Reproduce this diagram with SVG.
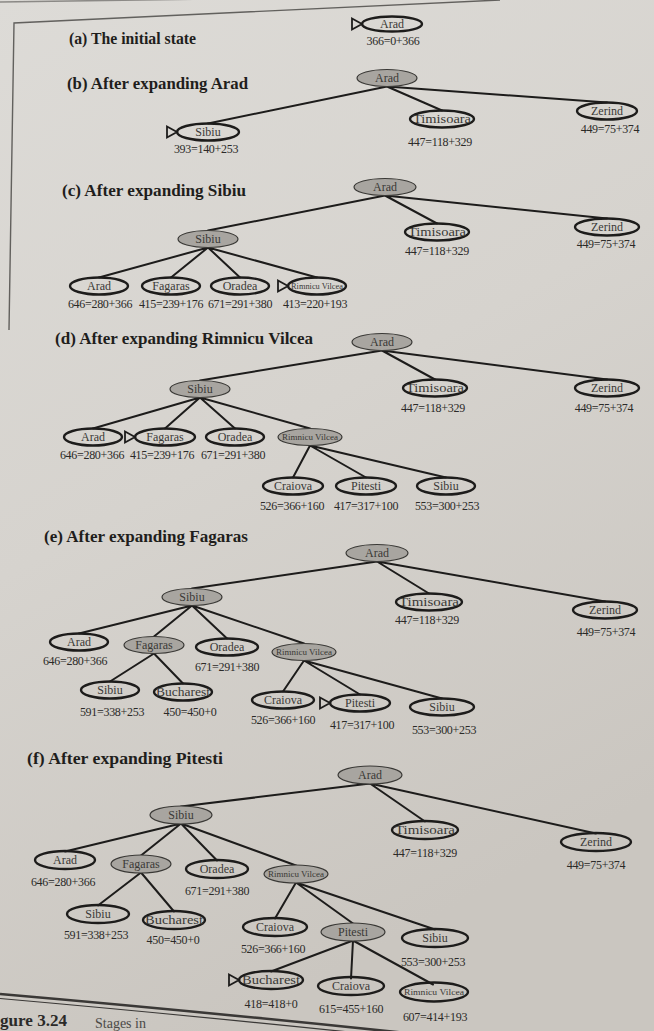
<svg xmlns="http://www.w3.org/2000/svg" xmlns:xlink="http://www.w3.org/1999/xlink" width="654" height="1031" viewBox="0 0 654 1031">
  <style>
    text { font-family: "Liberation Serif", "Times New Roman", serif; fill: #2b2a28; }
    .n { fill: none; stroke: #1d1c1b; stroke-width: 2.4; }
    .g { fill: #a8a5a0; stroke: #3a3936; stroke-width: 1.2; }
    .t { font-size: 12px; text-anchor: middle; fill: #3a3936; }
    .rv { font-size: 8.5px; text-anchor: middle; fill: #3a3936; }
    .v { font-size: 12px; letter-spacing: -0.3px; text-anchor: middle; }
    .title { font-size: 16px; font-weight: bold; fill: #1f1e1c; }
    .e path { fill: none; stroke: #1d1c1b; stroke-width: 2; stroke-linecap: round; }
    .s { fill: none; stroke: #1d1c1b; stroke-width: 1.8; stroke-linejoin: miter; }
    .rule { fill: none; stroke: #3a3836; }
  </style>
  <defs>
    <linearGradient id="paper" x1="0" y1="0" x2="0.35" y2="1">
      <stop offset="0" stop-color="#dddbd7"/>
      <stop offset="0.5" stop-color="#d6d3ce"/>
      <stop offset="1" stop-color="#cac6c0"/>
    </linearGradient>
    <!-- start-state marker: open triangle whose tip touches the node -->
    <path id="start" class="s" d="M0,0 L-10,-5.5 L-10,5.5 Z"/>
  </defs>

  <rect width="654" height="1031" fill="url(#paper)"/>

  <!-- figure frame and rules -->
  <path class="rule" d="M0,2 L420,-4" stroke-width="1.5" opacity="0.5"/>
  <path class="rule" d="M9,330 L14,23 L500,0" stroke-width="1.4" opacity="0.75"/>
  <path class="rule" d="M0,994 Q300,1020 654,1060" stroke-width="2.6"/>
  <path class="rule" d="M0,998.5 Q300,1025 654,1065" stroke-width="1.2"/>
  <text x="0" y="1026" style="font-size:16px;font-weight:bold" textLength="67" lengthAdjust="spacingAndGlyphs">gure 3.24</text>
  <text x="95" y="1028" style="font-size:14px" opacity="0.8">Stages in</text>

  <!-- panel titles -->
  <text class="title" x="69" y="44" textLength="127" lengthAdjust="spacingAndGlyphs">(a) The initial state</text>
  <text class="title" x="67" y="89" textLength="181" lengthAdjust="spacingAndGlyphs">(b) After expanding Arad</text>
  <text class="title" x="62" y="196" textLength="184" lengthAdjust="spacingAndGlyphs">(c) After expanding Sibiu</text>
  <text class="title" x="55" y="344" textLength="258" lengthAdjust="spacingAndGlyphs">(d) After expanding Rimnicu Vilcea</text>
  <text class="title" x="44" y="542" textLength="204" lengthAdjust="spacingAndGlyphs">(e) After expanding Fagaras</text>
  <text class="title" x="27" y="764" textLength="196" lengthAdjust="spacingAndGlyphs">(f) After expanding Pitesti</text>

  <!-- tree edges -->
  <g id="edges" class="e">
    <!-- (b) -->
    <path d="M387,86.5 L208,123.5 M387,86.5 L442,110.5 M387,86.5 L607,102.5"/>
    <!-- (c) -->
    <path d="M385,195.5 L208,230.5 M385,195.5 L437,223.5 M385,195.5 L607,218.5"/>
    <path d="M208,247.5 L99,277.5 M208,247.5 L171,277.5 M208,247.5 L240,277.5 M208,247.5 L317,277.5"/>
    <!-- (d) -->
    <path d="M382,350.5 L200,380.5 M382,350.5 L435,379.5 M382,350.5 L607,379.5"/>
    <path d="M200,397.5 L93,428.5 M200,397.5 L165,428.5 M200,397.5 L235,428.5 M200,397.5 L310,428.5"/>
    <path d="M310,445.5 L293,477.5 M310,445.5 L366,477.5 M310,445.5 L446,477.5"/>
    <!-- (e) -->
    <path d="M377,561.5 L192,588.5 M377,561.5 L429,593.5 M377,561.5 L605,601.5"/>
    <path d="M192,605.5 L79,633.5 M192,605.5 L154,636.5 M192,605.5 L227,638.5 M192,605.5 L304,643.5"/>
    <path d="M154,653.5 L110,681.5 M154,653.5 L183,683.5"/>
    <path d="M304,660.5 L283,691.5 M304,660.5 L360,694.5 M304,660.5 L442,698.5"/>
    <!-- (f) -->
    <path d="M370,783.5 L181,806.5 M370,783.5 L425,821.5 M370,783.5 L596,833.5"/>
    <path d="M181,823.5 L65,851.5 M181,823.5 L141,855.5 M181,823.5 L217,860.5 M181,823.5 L296,865.5"/>
    <path d="M141,872.5 L98,905.5 M141,872.5 L174,911.5"/>
    <path d="M296,882.5 L275,918.5 M296,882.5 L353,923.5 M296,882.5 L435,929.5"/>
    <path d="M353,940.5 L271,971.5 M353,940.5 L351,978.5 M353,940.5 L433,984.5"/>
  </g>

  <!-- (a) initial state -->
  <g id="a-arad"><use xlink:href="#start" x="362" y="24"/><ellipse class="n" cx="392" cy="24" rx="30" ry="7.5"/><text class="t" x="392" y="28">Arad</text><text class="v" x="393" y="45">366=0+366</text></g>

  <!-- (b) after expanding Arad -->
  <g id="b-arad"><ellipse class="g" cx="387" cy="78" rx="30" ry="8.5"/><text class="t" x="387" y="82">Arad</text></g>
  <g id="b-sibiu"><use xlink:href="#start" x="177" y="132"/><ellipse class="n" cx="208" cy="132" rx="31" ry="8.5"/><text class="t" x="208" y="136">Sibiu</text><text class="v" x="206" y="153">393=140+253</text></g>
  <g id="b-timisoara"><ellipse class="n" cx="442" cy="119" rx="32" ry="8.5"/><text class="t" x="442" y="123" textLength="58" lengthAdjust="spacingAndGlyphs">Timisoara</text><text class="v" x="440" y="146">447=118+329</text></g>
  <g id="b-zerind"><ellipse class="n" cx="607" cy="111" rx="30" ry="8.5"/><text class="t" x="607" y="115">Zerind</text><text class="v" x="610" y="133">449=75+374</text></g>

  <!-- (c) after expanding Sibiu -->
  <g id="c-arad"><ellipse class="g" cx="385" cy="187" rx="31" ry="8.5"/><text class="t" x="385" y="191">Arad</text></g>
  <g id="c-sibiu"><ellipse class="g" cx="208" cy="239" rx="30" ry="8.5"/><text class="t" x="208" y="243">Sibiu</text></g>
  <g id="c-timisoara"><ellipse class="n" cx="437" cy="232" rx="32" ry="8.5"/><text class="t" x="437" y="236" textLength="58" lengthAdjust="spacingAndGlyphs">Timisoara</text><text class="v" x="437" y="255">447=118+329</text></g>
  <g id="c-zerind"><ellipse class="n" cx="607" cy="227" rx="32" ry="8.5"/><text class="t" x="607" y="231">Zerind</text><text class="v" x="606" y="248">449=75+374</text></g>
  <g id="c-arad2"><ellipse class="n" cx="99" cy="286" rx="29" ry="8.5"/><text class="t" x="99" y="290">Arad</text><text class="v" x="100" y="308">646=280+366</text></g>
  <g id="c-fagaras"><ellipse class="n" cx="171" cy="286" rx="29" ry="8.5"/><text class="t" x="171" y="290">Fagaras</text><text class="v" x="171" y="308">415=239+176</text></g>
  <g id="c-oradea"><ellipse class="n" cx="240" cy="286" rx="29" ry="8.5"/><text class="t" x="240" y="290">Oradea</text><text class="v" x="240" y="308">671=291+380</text></g>
  <g id="c-rimnicu"><use xlink:href="#start" x="288" y="286"/><ellipse class="n" cx="317" cy="286" rx="29" ry="8.5"/><text class="rv" x="317" y="289" textLength="52" lengthAdjust="spacingAndGlyphs">Rimnicu Vilcea</text><text class="v" x="315" y="308">413=220+193</text></g>

  <!-- (d) after expanding Rimnicu Vilcea -->
  <g id="d-arad"><ellipse class="g" cx="382" cy="342" rx="30" ry="8.5"/><text class="t" x="382" y="346">Arad</text></g>
  <g id="d-sibiu"><ellipse class="g" cx="200" cy="389" rx="30" ry="8.5"/><text class="t" x="200" y="393">Sibiu</text></g>
  <g id="d-timisoara"><ellipse class="n" cx="435" cy="388" rx="32" ry="8.5"/><text class="t" x="435" y="392" textLength="58" lengthAdjust="spacingAndGlyphs">Timisoara</text><text class="v" x="433" y="412">447=118+329</text></g>
  <g id="d-zerind"><ellipse class="n" cx="607" cy="388" rx="32" ry="8.5"/><text class="t" x="607" y="392">Zerind</text><text class="v" x="604" y="412">449=75+374</text></g>
  <g id="d-arad2"><ellipse class="n" cx="93" cy="437" rx="29" ry="8.5"/><text class="t" x="93" y="441">Arad</text><text class="v" x="92" y="459">646=280+366</text></g>
  <g id="d-fagaras"><use xlink:href="#start" x="135" y="437"/><ellipse class="n" cx="165" cy="437" rx="30" ry="8.5"/><text class="t" x="165" y="441">Fagaras</text><text class="v" x="162" y="459">415=239+176</text></g>
  <g id="d-oradea"><ellipse class="n" cx="235" cy="437" rx="29" ry="8.5"/><text class="t" x="235" y="441">Oradea</text><text class="v" x="233" y="459">671=291+380</text></g>
  <g id="d-rimnicu"><ellipse class="g" cx="310" cy="437" rx="32" ry="8.5"/><text class="rv" x="310" y="440" textLength="56" lengthAdjust="spacingAndGlyphs">Rimnicu Vilcea</text></g>
  <g id="d-craiova"><ellipse class="n" cx="293" cy="486" rx="30" ry="8.5"/><text class="t" x="293" y="490">Craiova</text><text class="v" x="292" y="510">526=366+160</text></g>
  <g id="d-pitesti"><ellipse class="n" cx="366" cy="486" rx="30" ry="8.5"/><text class="t" x="366" y="490">Pitesti</text><text class="v" x="366" y="510">417=317+100</text></g>
  <g id="d-sibiu2"><ellipse class="n" cx="446" cy="486" rx="29" ry="8.5"/><text class="t" x="446" y="490">Sibiu</text><text class="v" x="447" y="510">553=300+253</text></g>

  <!-- (e) after expanding Fagaras -->
  <g id="e-arad"><ellipse class="g" cx="377" cy="553" rx="31" ry="8.5"/><text class="t" x="377" y="557">Arad</text></g>
  <g id="e-sibiu"><ellipse class="g" cx="192" cy="597" rx="30" ry="8.5"/><text class="t" x="192" y="601">Sibiu</text></g>
  <g id="e-timisoara"><ellipse class="n" cx="429" cy="602" rx="33" ry="8.5"/><text class="t" x="429" y="606" textLength="60" lengthAdjust="spacingAndGlyphs">Timisoara</text><text class="v" x="427" y="624">447=118+329</text></g>
  <g id="e-zerind"><ellipse class="n" cx="605" cy="610" rx="32" ry="8.5"/><text class="t" x="605" y="614">Zerind</text><text class="v" x="606" y="636">449=75+374</text></g>
  <g id="e-arad2"><ellipse class="n" cx="79" cy="642" rx="29" ry="8.5"/><text class="t" x="79" y="646">Arad</text><text class="v" x="75" y="665">646=280+366</text></g>
  <g id="e-fagaras"><ellipse class="g" cx="154" cy="645" rx="30" ry="8.5"/><text class="t" x="154" y="649">Fagaras</text></g>
  <g id="e-oradea"><ellipse class="n" cx="227" cy="647" rx="31" ry="8.5"/><text class="t" x="227" y="651">Oradea</text><text class="v" x="227" y="671">671=291+380</text></g>
  <g id="e-rimnicu"><ellipse class="g" cx="304" cy="652" rx="32" ry="8.5"/><text class="rv" x="304" y="655" textLength="56" lengthAdjust="spacingAndGlyphs">Rimnicu Vilcea</text></g>
  <g id="e-sibiu2"><ellipse class="n" cx="110" cy="690" rx="29" ry="8.5"/><text class="t" x="110" y="694">Sibiu</text><text class="v" x="112" y="716">591=338+253</text></g>
  <g id="e-bucharest"><ellipse class="n" cx="183" cy="692" rx="29" ry="8.5"/><text class="t" x="183" y="696" textLength="54" lengthAdjust="spacingAndGlyphs">Bucharest</text><text class="v" x="190" y="716">450=450+0</text></g>
  <g id="e-craiova"><ellipse class="n" cx="283" cy="700" rx="31" ry="8.5"/><text class="t" x="283" y="704">Craiova</text><text class="v" x="283" y="724">526=366+160</text></g>
  <g id="e-pitesti"><use xlink:href="#start" x="330" y="703"/><ellipse class="n" cx="360" cy="703" rx="30" ry="8.5"/><text class="t" x="360" y="707">Pitesti</text><text class="v" x="362" y="729">417=317+100</text></g>
  <g id="e-sibiu3"><ellipse class="n" cx="442" cy="707" rx="32" ry="8.5"/><text class="t" x="442" y="711">Sibiu</text><text class="v" x="444" y="734">553=300+253</text></g>

  <!-- (f) after expanding Pitesti -->
  <g id="f-arad"><ellipse class="g" cx="370" cy="775" rx="32" ry="9"/><text class="t" x="370" y="779">Arad</text></g>
  <g id="f-sibiu"><ellipse class="g" cx="181" cy="815" rx="31" ry="9"/><text class="t" x="181" y="819">Sibiu</text></g>
  <g id="f-timisoara"><ellipse class="n" cx="425" cy="830" rx="33" ry="9"/><text class="t" x="425" y="834" textLength="60" lengthAdjust="spacingAndGlyphs">Timisoara</text><text class="v" x="425" y="857">447=118+329</text></g>
  <g id="f-zerind"><ellipse class="n" cx="596" cy="842" rx="35" ry="9"/><text class="t" x="596" y="846">Zerind</text><text class="v" x="596" y="869">449=75+374</text></g>
  <g id="f-arad2"><ellipse class="n" cx="65" cy="860" rx="30" ry="9"/><text class="t" x="65" y="864">Arad</text><text class="v" x="63" y="886">646=280+366</text></g>
  <g id="f-fagaras"><ellipse class="g" cx="141" cy="864" rx="30" ry="9"/><text class="t" x="141" y="868">Fagaras</text></g>
  <g id="f-oradea"><ellipse class="n" cx="217" cy="869" rx="31" ry="9"/><text class="t" x="217" y="873">Oradea</text><text class="v" x="217" y="895">671=291+380</text></g>
  <g id="f-rimnicu"><ellipse class="g" cx="296" cy="874" rx="32" ry="9"/><text class="rv" x="296" y="877" textLength="56" lengthAdjust="spacingAndGlyphs">Rimnicu Vilcea</text></g>
  <g id="f-sibiu2"><ellipse class="n" cx="98" cy="914" rx="31" ry="9"/><text class="t" x="98" y="918">Sibiu</text><text class="v" x="96" y="939">591=338+253</text></g>
  <g id="f-bucharest"><ellipse class="n" cx="174" cy="920" rx="31" ry="9"/><text class="t" x="174" y="924" textLength="58" lengthAdjust="spacingAndGlyphs">Bucharest</text><text class="v" x="173" y="944">450=450+0</text></g>
  <g id="f-craiova"><ellipse class="n" cx="275" cy="927" rx="32" ry="9"/><text class="t" x="275" y="931">Craiova</text><text class="v" x="273" y="953">526=366+160</text></g>
  <g id="f-pitesti"><ellipse class="g" cx="353" cy="932" rx="32" ry="9"/><text class="t" x="353" y="936">Pitesti</text></g>
  <g id="f-sibiu3"><ellipse class="n" cx="435" cy="938" rx="33" ry="9"/><text class="t" x="435" y="942">Sibiu</text><text class="v" x="433" y="966">553=300+253</text></g>
  <g id="f-bucharest2"><use xlink:href="#start" x="239" y="980"/><ellipse class="n" cx="271" cy="980" rx="32" ry="9"/><text class="t" x="271" y="984" textLength="58" lengthAdjust="spacingAndGlyphs">Bucharest</text><text class="v" x="271" y="1008">418=418+0</text></g>
  <g id="f-craiova2"><ellipse class="n" cx="351" cy="986" rx="33" ry="9"/><text class="t" x="351" y="990">Craiova</text><text class="v" x="351" y="1013">615=455+160</text></g>
  <g id="f-rimnicu2"><ellipse class="n" cx="434" cy="992" rx="34" ry="9.5"/><text class="rv" x="434" y="995" textLength="60" lengthAdjust="spacingAndGlyphs">Rimnicu Vilcea</text><text class="v" x="435" y="1021">607=414+193</text></g>
</svg>
